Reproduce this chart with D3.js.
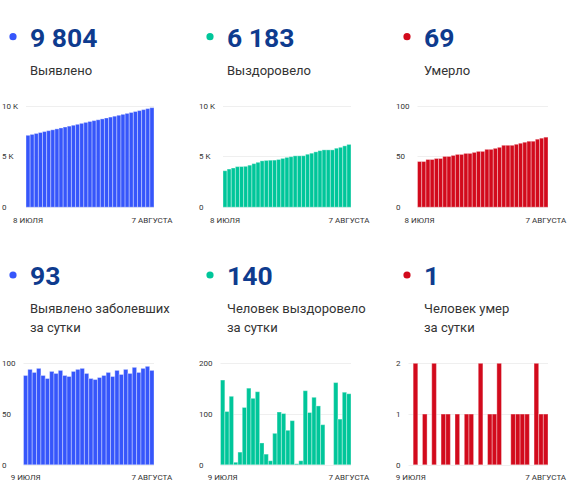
<!DOCTYPE html>
<html><head><meta charset="utf-8">
<script src="https://cdn.jsdelivr.net/npm/d3@7"></script>
<style>
body{margin:0;background:#fff;}
svg{display:block;font-family:Roboto,"Noto Sans",sans-serif;}
</style>
</head><body>
<svg id="c" width="582" height="500"></svg>
<script>
// ---- data ----
const datesTotal = ["8 ИЮЛЯ", "7 АВГУСТА"];   // 8 Jul .. 7 Aug (31 days)
const datesDaily = ["9 ИЮЛЯ", "7 АВГУСТА"];   // 9 Jul .. 7 Aug (30 days)

const infectedTotal = [7083,7171,7265,7356,7451,7539,7624,7716,7806,7899,7987,8074,8166,8260,8355,8445,8530,8614,8700,8788,8879,8966,9059,9148,9242,9332,9428,9519,9614,9711,9804];
const recoveredTotal = [3591,3758,3863,3998,4003,4028,4141,4292,4423,4567,4610,4631,4639,4701,4805,4906,4974,5061,5063,5071,5217,5320,5453,5569,5648,5648,5648,5810,5900,6043,6183];
const deathsTotal = [45,45,47,47,48,48,50,50,51,52,52,53,53,54,55,55,57,57,58,59,61,61,61,62,63,64,65,65,67,68,69];

const infectedDaily = [88,94,91,95,88,85,92,90,93,88,87,92,94,95,90,85,84,86,88,91,87,93,89,94,90,96,91,95,97,93];
const recoveredDaily = [167,105,135,5,25,113,151,131,144,43,21,8,62,104,101,68,87,2,8,146,103,133,116,79,0,0,162,90,143,140];
const deathsDaily = [0,2,0,1,0,2,0,1,1,0,1,0,1,1,0,2,0,1,1,2,0,0,1,1,1,1,0,2,1,1];

const headlines = ["9 804", "6 183", "69", "93", "140", "1"];
const titles = [
  ["Выявлено"], ["Выздоровело"], ["Умерло"],
  ["Выявлено заболевших", "за сутки"], ["Человек выздоровело", "за сутки"], ["Человек умер", "за сутки"]
];
const ticksK = [0, 5000, 10000];
const ticksKLabels = ["0", "5 K", "10 K"];
const ticks100 = [0, 50, 100];
const ticks200 = [0, 100, 200];
const ticks2 = [0, 1, 2];

const colors = { infected: "#3656fb", recovered: "#00c69a", deaths: "#d20a1c" };
const numberColor = "#0e3b8e";

// ---- build panels ----
const panels = [
  { values: infectedTotal, ticks: ticksK, tickLabels: ticksKLabels, color: colors.infected, dates: datesTotal },
  { values: recoveredTotal, ticks: ticksK, tickLabels: ticksKLabels, color: colors.recovered, dates: datesTotal },
  { values: deathsTotal, ticks: ticks100, tickLabels: ticks100.map(String), color: colors.deaths, dates: datesTotal },
  { values: infectedDaily, ticks: ticks100, tickLabels: ticks100.map(String), color: colors.infected, dates: datesDaily },
  { values: recoveredDaily, ticks: ticks200, tickLabels: ticks200.map(String), color: colors.recovered, dates: datesDaily },
  { values: deathsDaily, ticks: ticks2, tickLabels: ticks2.map(String), color: colors.deaths, dates: datesDaily }
];

const svg = d3.select("#c");
const colStep = 197;
const rows = [
  { baseline: 46.7, chartTop: 105.7 },
  { baseline: 285, chartTop: 363.3 }
];
const plotH = 101.5;

panels.forEach((p, i) => {
  const col = i % 3, row = Math.floor(i / 3);
  const x0 = col * colStep;
  const r = rows[row];
  const g = svg.append("g");

  // headline
  g.append("circle").attr("cx", x0 + 13).attr("cy", r.baseline - 10).attr("r", 3.6).attr("fill", p.color);
  g.append("text").attr("x", x0 + 30).attr("y", r.baseline)
    .attr("font-size", 26.5).attr("font-weight", 700).attr("fill", numberColor)
    .text(headlines[i]);
  titles[i].forEach((t, k) => {
    g.append("text").attr("x", x0 + 30).attr("y", r.baseline + 28.3 + k * 18.3)
      .attr("font-size", 13).attr("fill", "#333").text(t);
  });

  // y labels
  const yTop = r.chartTop, yBot = r.chartTop + plotH;
  const y = d3.scaleLinear().domain([p.ticks[0], p.ticks[p.ticks.length - 1]]).range([yBot, yTop]);
  const labG = g.append("g");
  let maxW = 0;
  p.ticks.forEach((t, k) => {
    const tx = labG.append("text").attr("x", x0 + 2).attr("y", y(t)).attr("dy", "0.35em")
      .attr("font-size", 8).attr("fill", "#333").text(p.tickLabels[k]);
    maxW = Math.max(maxW, tx.node().getComputedTextLength());
  });
  const plotL = x0 + 2 + maxW + 8, plotR = x0 + 154;

  // grid
  g.append("g").selectAll("line").data(p.ticks).join("line")
    .attr("x1", plotL).attr("x2", plotR)
    .attr("y1", d => Math.round(y(d)) + 0.5).attr("y2", d => Math.round(y(d)) + 0.5)
    .attr("stroke", "#efefef").attr("stroke-width", 1);

  // bars
  const x = d3.scaleBand().domain(d3.range(p.values.length)).range([plotL, plotR]).padding(0);
  g.append("g").selectAll("rect").data(p.values).join("rect")
    .attr("x", (d, k) => x(k)).attr("width", x.bandwidth())
    .attr("y", d => y(d)).attr("height", d => yBot - y(d))
    .attr("fill", p.color)
    .attr("stroke", "#fff").attr("stroke-opacity", 0.35).attr("stroke-width", 1);

  // x labels
  const n = p.values.length;
  [[0, p.dates[0]], [n - 1, p.dates[1]]].forEach(([k, lab]) => {
    g.append("text").attr("x", x(k) + x.bandwidth() / 2).attr("y", yBot + 15.3)
      .attr("text-anchor", "middle").attr("font-size", 8).attr("fill", "#333").text(lab);
  });
});
</script>
</body></html>
